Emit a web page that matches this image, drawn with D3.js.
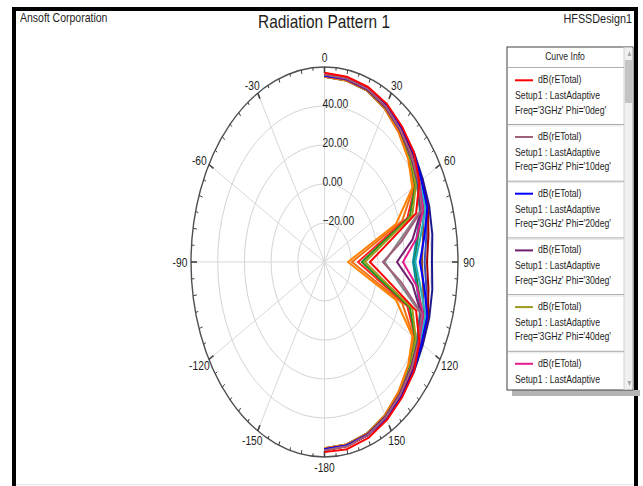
<!DOCTYPE html>
<html>
<head>
<meta charset="utf-8">
<script src="https://cdn.jsdelivr.net/npm/d3@7"></script>
<style>
body { margin: 0; background: #fff; }
svg { display: block; }
text { font-family: "Liberation Sans", Arial, sans-serif; fill: #1e1e1e; }
</style>
</head>
<body>
<svg id="chart" width="643" height="486"></svg>
<script>
// theta samples (deg) shared by every trace
var thetas = [0, 10, 20, 30, 40, 50, 60, 70, 80, 90, 100, 110, 120, 130, 140, 150, 160, 170, 180];
var radialTicks = [-20, 0, 20, 40];
var radialDomain = [-40, 60];
var angleTicks = [0, 30, 60, 90, 120, 150, 180, 210, 240, 270, 300, 330];
var angleLabels = ['0', '30', '60', '90', '120', '150', '-180', '-150', '-120', '-90', '-60', '-30'];

var phis = [0, 10, 20, 30, 40, 50, 60, 70, 80, 90, 100, 110, 120, 130, 140, 150, 160, 170];
var curveColors = ['#ff0000', '#a0607c', '#0000ff', '#6e1f6e', '#9c9a1c', '#e6198f', '#ff8000',
  '#00909a', '#209020', '#a00000', '#1a1a8c', '#ff2020', '#f07010',
  '#20b0c0', '#8b4a2a', '#888888', '#2e7d32', '#3050c0'];
// dB(rETotal) per phi, one value per theta
var curveValues = [
  [57, 56.5, 55.5, 53.5, 50.5, 47.5, 42, 33, 6, -6, 6, 33, 42, 47.5, 50.5, 53.5, 56, 57.5, 57.5],
  [56, 55.5, 54.5, 52, 48.5, 45, 41.5, 37.5, 18, 3.8, 18, 37.5, 41.5, 45, 48.5, 52, 54.5, 56, 56.5],
  [55.5, 55.5, 54.5, 52.5, 50, 47, 44, 42, 36, 31.5, 36, 42, 44, 47, 50, 52.5, 54.5, 55.5, 56],
  [55.5, 55, 54, 51.5, 48, 44.5, 41, 37, 27, 14.3, 27, 37, 41, 44.5, 48, 51.5, 54, 55.5, 56],
  [56, 55.5, 54, 51.5, 48, 44, 39, 30, 1.7, -9.7, 1.7, 30, 39, 44, 48, 51.5, 54, 55.5, 56.5],
  [55.5, 55, 54, 52, 48.5, 45, 42, 38.5, 30, 18.8, 30, 38.5, 42, 45, 48.5, 52, 54, 55.5, 56],
  [55, 54.5, 53.5, 51, 47, 42, 36, 17, -13.5, -22.4, -13.5, 17, 36, 42, 47, 51, 53.5, 55, 55.5],
  [55, 54.5, 53.5, 51, 47.5, 44, 40, 36.5, 30, 26.3, 30, 36.5, 40, 44, 47.5, 51, 53.5, 55, 55.5],
  [55.5, 55, 54, 51.5, 47.5, 43.5, 38.5, 28, -1, -12, -1, 28, 38.5, 43.5, 47.5, 51.5, 54, 55.5, 56],
  [56, 55.5, 54.5, 52.5, 49.5, 46.5, 44, 42.5, 39, 36.8, 39, 42.5, 44, 46.5, 49.5, 52.5, 54.5, 56, 56.5],
  [55.5, 55.5, 54.5, 52.5, 50, 47.5, 45, 43.5, 42, 40.5, 42, 43.5, 45, 47.5, 50, 52.5, 54.5, 55.5, 56],
  [56, 55.5, 54.5, 52, 48, 44, 38.5, 26, -4, -14.9, -4, 26, 38.5, 44, 48, 52, 54.5, 56, 56.5],
  [55, 54.5, 53.5, 50.5, 46.5, 42, 37, 22, -9.5, -19.4, -9.5, 22, 37, 42, 46.5, 50.5, 53.5, 55, 55.5],
  [55.5, 55, 54, 52, 48.5, 45.5, 42.5, 40.5, 33, 28, 33, 40.5, 42.5, 45.5, 48.5, 52, 54, 55.5, 56],
  [55.5, 55, 54, 51.5, 48, 44.5, 41.5, 39, 35, 33, 35, 39, 41.5, 44.5, 48, 51.5, 54, 55.5, 56],
  [55, 54.5, 53.5, 51, 47.5, 43.5, 40, 36, 15.7, 5, 15.7, 36, 40, 43.5, 47.5, 51, 53.5, 55, 55.5],
  [55.5, 55, 54, 51.5, 48, 44.5, 41, 38, 31, 27.5, 31, 38, 41, 44.5, 48, 51.5, 54, 55.5, 56],
  [55.5, 55.5, 54.5, 52, 49, 46, 43.5, 41.5, 37.5, 35, 37.5, 41.5, 43.5, 46, 49, 52, 54.5, 55.5, 56]
];

var width = 643, height = 486;
var cx = 324.5, cy = 262, rx = 133.5, ry = 195;
var squeeze = 0.82; // the original lettering is condensed

var svg = d3.select('#chart');
var rScale = d3.scaleLinear().domain(radialDomain).range([0, 1]);
var rad = d3.scaleLinear().domain([0, 360]).range([0, 2 * Math.PI]);

function px(deg, k) { return cx + rx * k * Math.sin(rad(deg)); }
function py(deg, k) { return cy - ry * k * Math.cos(rad(deg)); }

function place(sel, x, y) {
  return sel.attr('transform', function(d, i) {
    var xx = typeof x === 'function' ? x(d, i) : x;
    var yy = typeof y === 'function' ? y(d, i) : y;
    return 'translate(' + xx + ',' + yy + ') scale(' + squeeze + ',1)';
  });
}

// frame
svg.append('rect').attr('width', width).attr('height', height).attr('fill', '#fff');
svg.append('path')
  .attr('d', 'M14,486 V9 H636 V486')
  .attr('fill', 'none').attr('stroke', '#000').attr('stroke-width', 4);
svg.append('line').attr('x1', 16).attr('x2', 634).attr('y1', 484.5).attr('y2', 484.5)
  .attr('stroke', '#e4e4e4');

place(svg.append('text'), 20, 22).attr('font-size', 12.8).text('Ansoft Corporation');
place(svg.append('text'), 632, 23).attr('font-size', 13.2)
  .attr('text-anchor', 'end').text('HFSSDesign1');
place(svg.append('text'), 324, 28).attr('font-size', 18.8)
  .attr('text-anchor', 'middle').text('Radiation Pattern 1');

// polar grid
var grid = svg.append('g');
grid.selectAll('.ring').data(radialTicks).enter().append('ellipse')
  .attr('cx', cx).attr('cy', cy)
  .attr('rx', function(d) { return rx * rScale(d); })
  .attr('ry', function(d) { return ry * rScale(d); })
  .attr('fill', 'none').attr('stroke', '#d4d4d4');
grid.selectAll('.spoke').data(angleTicks).enter().append('line')
  .attr('x1', cx).attr('y1', cy)
  .attr('x2', function(d) { return px(d, 1); })
  .attr('y2', function(d) { return py(d, 1); })
  .attr('stroke', '#d8d8d8');
grid.append('ellipse').attr('cx', cx).attr('cy', cy).attr('rx', rx).attr('ry', ry)
  .attr('fill', 'none').attr('stroke', '#505050').attr('stroke-width', 1.4);

var minor = d3.range(0, 360, 5);
grid.selectAll('.tick').data(minor).enter().append('line')
  .attr('x1', function(d) { return px(d, 1); })
  .attr('y1', function(d) { return py(d, 1); })
  .attr('x2', function(d) { return tickEnd(d).x; })
  .attr('y2', function(d) { return tickEnd(d).y; })
  .attr('stroke', '#404040')
  .attr('stroke-width', function(d) { return d % 30 === 0 ? 1.6 : 1; });

function tickEnd(d) {
  var x = px(d, 1) - cx, y = py(d, 1) - cy;
  var len = d % 30 === 0 ? 6 : (d % 10 === 0 ? 4 : 3);
  var k = 1 - len / Math.sqrt(x * x + y * y);
  return { x: cx + x * k, y: cy + y * k };
}

place(grid.selectAll('.alabel').data(angleTicks).enter().append('text'),
  function(d) { return cx + (rx + 11) * Math.sin(rad(d)); },
  function(d) { return cy - (ry + 10) * Math.cos(rad(d)) + 2; })
  .attr('text-anchor', 'middle').attr('dominant-baseline', 'middle')
  .attr('font-size', 12.5)
  .text(function(d, i) { return angleLabels[i]; });

place(grid.selectAll('.rlabel').data(radialTicks).enter().append('text'),
  cx - 2, function(d) { return cy - ry * rScale(d) - 1; })
  .attr('dominant-baseline', 'middle').attr('font-size', 12.5)
  .text(function(d) { return d3.format('.2f')(d); });

// traces, drawn last-to-first so Phi=0 ends up on top
var line = d3.line()
  .x(function(d, i) { return px(thetas[i], rScale(d)); })
  .y(function(d, i) { return py(thetas[i], rScale(d)); });

var traces = curveValues.map(function(v, i) { return { values: v, color: curveColors[i] }; }).reverse();

svg.append('g').selectAll('path').data(traces).enter().append('path')
  .attr('d', function(d) { return line(d.values); })
  .attr('fill', 'none')
  .attr('stroke', function(d) { return d.color; })
  .attr('stroke-width', 2)
  .attr('stroke-linejoin', 'round');

// curve info box
var lx = 507, ly = 47, lw = 126, lh = 343, sbw = 9;
var legend = svg.append('g');
legend.append('rect').attr('x', lx + 5).attr('y', ly + lh).attr('width', lw + 2).attr('height', 6)
  .attr('fill', '#b4b4b4');
legend.append('rect').attr('x', lx).attr('y', ly).attr('width', lw).attr('height', lh)
  .attr('fill', '#fff').attr('stroke', '#404040');

legend.append('rect').attr('x', lx + lw - sbw).attr('y', ly + 0.5).attr('width', sbw - 0.5).attr('height', lh - 1)
  .attr('fill', '#f0f0f0');
legend.append('rect').attr('x', lx + lw - sbw + 1).attr('y', 60).attr('width', sbw - 2).attr('height', 43)
  .attr('fill', '#c4c4c4');
legend.append('path').attr('d', 'M627.5,56 L629.5,51 L631.5,56 Z').attr('fill', '#a8a8a8');
legend.append('path').attr('d', 'M627.5,381 L629.5,386 L631.5,381 Z').attr('fill', '#a8a8a8');
legend.append('line').attr('x1', lx + lw - sbw).attr('x2', lx + lw - sbw)
  .attr('y1', ly).attr('y2', ly + lh).attr('stroke', '#d0d0d0');

place(legend.append('text'), 565, 57.5).attr('font-size', 10.5)
  .attr('text-anchor', 'middle').attr('dominant-baseline', 'middle').text('Curve Info');
legend.append('line').attr('x1', lx + 1).attr('x2', lx + lw - sbw).attr('y1', 67.5).attr('y2', 67.5)
  .attr('stroke', '#b0b0b0');

svg.append('clipPath').attr('id', 'legend-clip').append('rect')
  .attr('x', lx).attr('y', 68).attr('width', lw - sbw).attr('height', lh - 22);

var step = 56.7;
var entrySel = legend.append('g').attr('clip-path', 'url(#legend-clip)')
  .selectAll('.entry').data(phis.slice(0, 6)).enter().append('g')
  .attr('transform', function(d, i) { return 'translate(0,' + (68.3 + i * step) + ')'; });

entrySel.append('line').attr('x1', 515).attr('x2', 533).attr('y1', 12).attr('y2', 12)
  .attr('stroke', function(d, i) { return curveColors[i]; }).attr('stroke-width', 2);
place(entrySel.append('text'), 538, 12).attr('dominant-baseline', 'middle')
  .attr('font-size', 10.6).text('dB(rETotal)');
place(entrySel.append('text'), 515, 28).attr('dominant-baseline', 'middle')
  .attr('font-size', 10.6).text('Setup1 : LastAdaptive');
place(entrySel.append('text'), 515, 42.5).attr('dominant-baseline', 'middle')
  .attr('font-size', 10.6).text(function(d) { return "Freq='3GHz' Phi='" + d + "deg'"; });
entrySel.append('line').attr('x1', lx + 1).attr('x2', lx + lw - sbw).attr('y1', step - 0.5).attr('y2', step - 0.5)
  .attr('stroke', '#a8a8a8');
entrySel.append('line').attr('x1', lx + 1).attr('x2', lx + lw - sbw).attr('y1', step + 1).attr('y2', step + 1)
  .attr('stroke', '#e6e6e6');
</script>
</body>
</html>
